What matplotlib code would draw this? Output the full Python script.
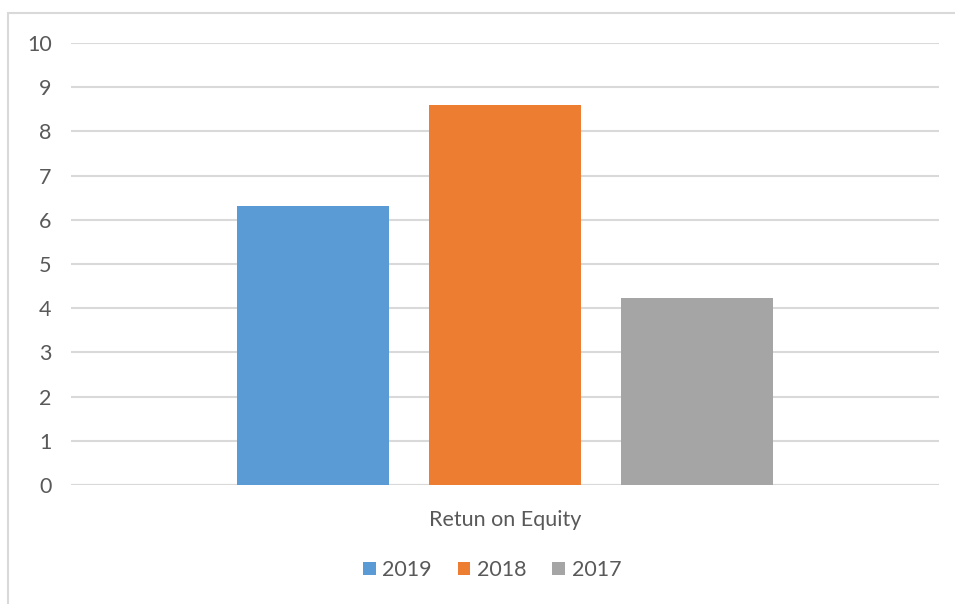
import matplotlib
matplotlib.use("Agg")
import matplotlib.pyplot as plt
from matplotlib.patches import Rectangle

category = "Retun on Equity"
years = ["2019", "2018", "2017"]
values = [6.31, 8.6, 4.23]
colors = ["#5b9bd5", "#ed7d31", "#a5a5a5"]
yticks = list(range(0, 11))

plt.rcParams["font.family"] = ["Lato", "DejaVu Sans"]
text_color = "#595959"
grid_color = "#d9d9d9"

fig = plt.figure(figsize=(9.55, 6.04), dpi=100)
W, H = 955, 604
ax = fig.add_axes([71 / W, (H - 485) / H, (939 - 71) / W, (485 - 43) / H])

# chart-area border
fig.patches.append(Rectangle((8 / W, -0.1), 1.2, (H - 13) / H + 0.1,
                             transform=fig.transFigure, fill=False,
                             edgecolor=grid_color, linewidth=1.5))

for i, (yr, v, c) in enumerate(zip(years, values, colors)):
    ax.bar(i, v, width=0.79, color=c, label=yr, zorder=3)

ax.set_xlim(-1.255, 3.255)
ax.set_ylim(0, 10)
ax.set_yticks(yticks)
ax.set_xticks([1])
ax.set_xticklabels([category])
ax.yaxis.grid(True, color=grid_color, linewidth=1.5, zorder=0)
for s in ax.spines.values():
    s.set_visible(False)
ax.axhline(0, color=grid_color, linewidth=1.5, zorder=1)
ax.tick_params(axis="both", length=0, labelsize=15.5, colors=text_color)
ax.tick_params(axis="y", pad=14)
ax.tick_params(axis="x", pad=18)

fig.legend(loc="center", bbox_to_anchor=(492 / W, (H - 570) / H), ncol=3,
           frameon=False, fontsize=15.5, handlelength=0.6, handleheight=0.6,
           handletextpad=0.3, columnspacing=1.2, labelcolor=text_color)

fig.savefig("out.png", dpi=100)
